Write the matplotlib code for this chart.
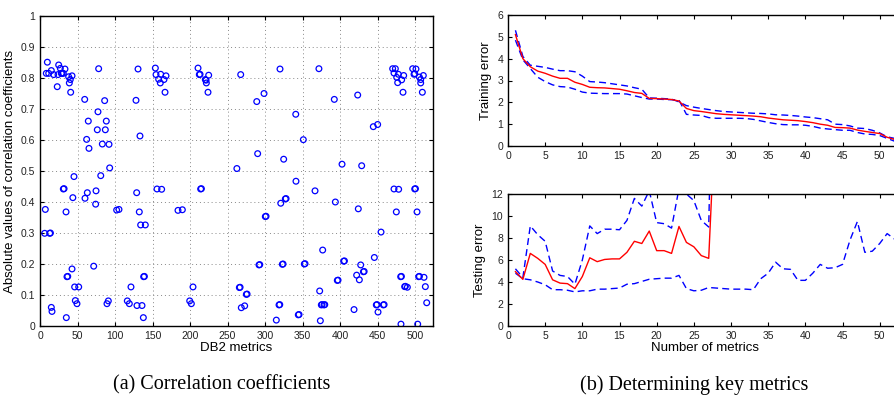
import numpy as np
import matplotlib
matplotlib.use("Agg")
import matplotlib.pyplot as plt

# ---------------- Data: (a) correlation coefficients ----------------
metric_idx = [
    9.8, 8.4, 11.6, 15.1, 18.2, 23, 24.9, 24, 27.1, 28.4, 29.4, 31.1, 33.3, 38.2, 39.1, 40.4, 42.7, 40.9,
    59.6, 78.2, 86.2, 77.3, 64.4, 88.4, 76.4, 87.1, 62.2, 65.3, 83.1, 92, 92.9, 81, 45.3,
    128, 130.7, 133.3, 153.8, 154.7, 160.9, 158.2, 160.4, 165.3, 168, 166.7,
    210.7, 212.4, 213.4, 224.9, 220.4, 221.4, 221.8, 224,
    267.6, 320, 371.9, 289, 298.7, 341, 392.4, 423.6, 444.4, 450.2, 351.1, 290.2, 324.9, 262.5,
    402.7, 428.9, 341.3,
    470.2, 473.8, 472, 477.8, 475.6, 476.9, 482.2, 484.9, 484,
    496.9, 501.3, 498.7, 499.7, 505.8, 507.6, 507.6, 511.1, 509.8,
    31.1, 32.1, 43.8, 63.1, 60, 74.7, 74.2, 7.1, 34.7, 6.2, 12.9, 13.9,
    102.2, 105.3, 128.9, 132.4, 134.2, 140.4, 156, 162.2, 214.2, 215.2, 184, 189.8,
    42.7, 71.6, 36, 37, 46.2, 51.6, 47.1, 49.3, 15.1, 16, 35.1,
    89.3, 91.1, 121.3, 116.4, 119.1, 129.3, 136, 138.2, 139.2, 137.8, 199.6, 201.8, 204,
    366.7, 321, 327.1, 328.1, 300.4, 301.4, 393.8, 424.4, 454.7, 376.9,
    292, 293, 323.1, 324.1, 352.4, 353.4, 404.9, 405.9, 427.6, 431.2, 432.2, 422.2, 425.8,
    396.4, 397.4, 445.8, 265.8, 266.8, 275.1, 276.1, 268.4, 272.9,
    318.7, 319.7, 315.1, 344.4, 345.4, 372.9, 375.1, 376.1, 378.7, 379.7, 373.8,
    418.7, 448.4, 449.4, 457.8, 458.8, 450.7,
    472, 478.2, 499.6, 500.6, 475.1, 502.7,
    480.9, 481.9, 504.9, 505.9, 512, 486.2, 487.2, 489.8, 513.8, 515.6, 481.3, 503.6,
]
corr_abs = [
    0.851, 0.815, 0.815, 0.824, 0.811, 0.772, 0.842, 0.811, 0.831, 0.815, 0.815, 0.815, 0.829, 0.804, 0.784, 0.795, 0.807, 0.754,
    0.731, 0.830, 0.727, 0.691, 0.661, 0.661, 0.633, 0.633, 0.602, 0.573, 0.587, 0.586, 0.510, 0.485, 0.482,
    0.728, 0.829, 0.613, 0.832, 0.811, 0.812, 0.796, 0.784, 0.795, 0.807, 0.754,
    0.832, 0.811, 0.812, 0.809, 0.795, 0.793, 0.784, 0.754,
    0.811, 0.829, 0.830, 0.724, 0.750, 0.683, 0.731, 0.745, 0.643, 0.650, 0.601, 0.556, 0.538, 0.508,
    0.522, 0.517, 0.467,
    0.830, 0.830, 0.816, 0.812, 0.802, 0.785, 0.794, 0.808, 0.754,
    0.830, 0.829, 0.812, 0.814, 0.803, 0.795, 0.784, 0.808, 0.754,
    0.442, 0.443, 0.414, 0.430, 0.412, 0.436, 0.393, 0.376, 0.368, 0.299, 0.299, 0.300,
    0.374, 0.376, 0.430, 0.368, 0.326, 0.326, 0.442, 0.441, 0.442, 0.443, 0.373, 0.375,
    0.184, 0.193, 0.159, 0.160, 0.126, 0.126, 0.082, 0.072, 0.060, 0.047, 0.027,
    0.072, 0.081, 0.126, 0.081, 0.072, 0.066, 0.066, 0.159, 0.160, 0.027, 0.081, 0.072, 0.126,
    0.436, 0.396, 0.410, 0.411, 0.353, 0.354, 0.400, 0.378, 0.303, 0.245,
    0.197, 0.198, 0.199, 0.200, 0.200, 0.201, 0.209, 0.210, 0.197, 0.175, 0.176, 0.164, 0.149,
    0.147, 0.148, 0.221, 0.124, 0.125, 0.102, 0.103, 0.059, 0.065,
    0.068, 0.069, 0.019, 0.036, 0.037, 0.113, 0.068, 0.069, 0.068, 0.069, 0.017,
    0.053, 0.068, 0.069, 0.068, 0.069, 0.045,
    0.442, 0.441, 0.442, 0.443, 0.368, 0.368,
    0.159, 0.160, 0.159, 0.160, 0.157, 0.127, 0.128, 0.125, 0.127, 0.075, 0.006, 0.006,
]

# ---------------- Data: (b) determining key metrics ----------------
n_metrics = list(range(1, 53))
train_mean = [5.1, 4.0, 3.63, 3.43, 3.33, 3.2, 3.1, 3.1, 2.92, 2.82, 2.69, 2.67, 2.66, 2.63, 2.6, 2.53,
              2.45, 2.41, 2.18, 2.17, 2.15, 2.13, 2.06, 1.72, 1.62, 1.58, 1.53, 1.48, 1.45, 1.43, 1.41,
              1.39, 1.37, 1.34, 1.28, 1.24, 1.2, 1.18, 1.16, 1.12, 1.07, 1.0, 0.95, 0.85, 0.84, 0.82,
              0.73, 0.67, 0.62, 0.57, 0.4, 0.3]
train_upper = [5.3, 4.1, 3.7, 3.65, 3.6, 3.52, 3.45, 3.45, 3.4, 3.2, 2.95, 2.93, 2.9, 2.85, 2.8, 2.75,
               2.67, 2.6, 2.2, 2.19, 2.17, 2.15, 2.02, 1.85, 1.78, 1.72, 1.67, 1.62, 1.58, 1.56, 1.54,
               1.52, 1.5, 1.49, 1.47, 1.43, 1.42, 1.4, 1.37, 1.33, 1.3, 1.25, 1.2, 1.0, 0.98, 0.92,
               0.82, 0.8, 0.72, 0.6, 0.42, 0.35]
train_lower = [4.85, 3.95, 3.55, 3.15, 2.95, 2.8, 2.72, 2.7, 2.6, 2.47, 2.42, 2.41, 2.4, 2.4, 2.4, 2.38,
               2.3, 2.22, 2.15, 2.15, 2.13, 2.12, 2.1, 1.45, 1.42, 1.4, 1.3, 1.27, 1.27, 1.27, 1.27,
               1.26, 1.22, 1.15, 1.08, 1.02, 0.98, 0.97, 0.97, 0.95, 0.9, 0.82, 0.78, 0.75, 0.72, 0.72,
               0.62, 0.55, 0.53, 0.48, 0.35, 0.22]

test_n = list(range(1, 29))
test_mean = [4.94, 4.24, 6.6, 6.15, 5.6, 4.2, 3.9, 3.85, 3.4, 4.5, 6.2, 5.85, 6.05, 6.1, 6.1, 6.7,
             7.7, 7.5, 8.63, 6.85, 6.85, 6.6, 9.05, 7.6, 7.2, 6.4, 6.15, 21.0]
test_upper = [5.2, 4.4, 9.1, 8.3, 7.7, 5.0, 4.6, 4.5, 3.8, 6.0, 9.1, 8.4, 8.8, 8.8, 8.75, 9.6,
              11.6, 10.9, 12.3, 9.4, 9.3, 8.9, 12.5, 12.0, 11.4, 9.6, 9.0, 40.0]
test_lower = [4.8, 4.3, 4.2, 4.0, 3.75, 3.3, 3.3, 3.25, 3.1, 3.2, 3.2, 3.35, 3.35, 3.4, 3.45, 3.8,
              3.85, 4.05, 4.25, 4.3, 4.35, 4.35, 4.6, 3.4, 3.2, 3.25, 3.5, 3.45, 3.4, 3.35, 3.35,
              3.35, 3.3, 4.3, 4.8, 5.8, 5.2, 5.15, 4.15, 4.15, 4.8, 5.6, 5.25, 5.3, 5.6, 7.8,
              9.5, 6.7, 6.8, 7.5, 8.4, 7.9]

left_xticks = [0, 50, 100, 150, 200, 250, 300, 350, 400, 450, 500]
left_yticks = [0, 0.1, 0.2, 0.3, 0.4, 0.5, 0.6, 0.7, 0.8, 0.9, 1]
right_xticks = [0, 5, 10, 15, 20, 25, 30, 35, 40, 45, 50]

plt.rcParams['font.family'] = ['Liberation Sans', 'DejaVu Sans']
fig = plt.figure(figsize=(8.94, 3.99), dpi=100)

W, H = 894.0, 399.0
def pos(x0, y0, x1, y1):
    return [x0 / W, 1 - y1 / H, (x1 - x0) / W, (y1 - y0) / H]

tick_fs = 7.5
label_fs = 9.5

def style(ax):
    ax.tick_params(direction='in', top=True, right=True, labelsize=tick_fs,
                   length=3, width=0.8, colors='black', labelcolor='#222222')
    for s in ax.spines.values():
        s.set_linewidth(1.0)

# (a) scatter
ax1 = fig.add_axes(pos(40, 16, 433, 326))
ax1.scatter(metric_idx, corr_abs, s=17, facecolors='none', edgecolors='#0000ff', linewidths=0.9)
ax1.set_xlim(0, 524)
ax1.set_ylim(0, 1)
ax1.set_xticks(left_xticks)
ax1.set_yticks(left_yticks)
ax1.set_xticklabels([str(t) for t in left_xticks])
ax1.set_yticklabels(['0', '0.1', '0.2', '0.3', '0.4', '0.5', '0.6', '0.7', '0.8', '0.9', '1'])
ax1.grid(True, linestyle=(0, (1, 3)), color='#888888', linewidth=0.7)
ax1.set_axisbelow(True)
ax1.set_xlabel('DB2 metrics', fontsize=label_fs, labelpad=1)
ax1.set_ylabel('Absolute values of correlation coefficients', fontsize=label_fs, labelpad=3)
style(ax1)

# (b) top: training error
ax2 = fig.add_axes(pos(508, 15, 902, 146))
ax2.plot(n_metrics, train_upper, color='#0000ff', linestyle=(0, (5, 3)), linewidth=1.0)
ax2.plot(n_metrics, train_lower, color='#0000ff', linestyle=(0, (5, 3)), linewidth=1.0)
ax2.plot(n_metrics, train_mean, color='#ff0000', linewidth=1.0)
ax2.set_xlim(0, 53)
ax2.set_ylim(0, 6)
ax2.set_xticks(right_xticks)
ax2.set_yticks([0, 1, 2, 3, 4, 5, 6])
ax2.set_ylabel('Training error', fontsize=label_fs, labelpad=4)
style(ax2)

# (b) bottom: testing error
ax3 = fig.add_axes(pos(508, 194, 902, 326))
ax3.plot(test_n, test_upper, color='#0000ff', linestyle=(0, (5, 3)), linewidth=1.0)
ax3.plot(n_metrics, test_lower, color='#0000ff', linestyle=(0, (5, 3)), linewidth=1.0)
ax3.plot(test_n, test_mean, color='#ff0000', linewidth=1.0)
ax3.set_xlim(0, 53)
ax3.set_ylim(0, 12)
ax3.set_xticks(right_xticks)
ax3.set_yticks([0, 2, 4, 6, 8, 10, 12])
ax3.set_xlabel('Number of metrics', fontsize=label_fs, labelpad=1)
ax3.set_ylabel('Testing error', fontsize=label_fs, labelpad=4)
style(ax3)

# captions
fig.text(222 / W, 1 - 385 / H, '(a) Correlation coefficients', ha='center', va='center',
         fontsize=14.5, family=['Liberation Serif', 'DejaVu Serif'])
fig.text(694 / W, 1 - 385 / H, '(b) Determining key metrics', ha='center', va='center',
         fontsize=14.5, family=['Liberation Serif', 'DejaVu Serif'])

fig.savefig('out.png', dpi=100)
